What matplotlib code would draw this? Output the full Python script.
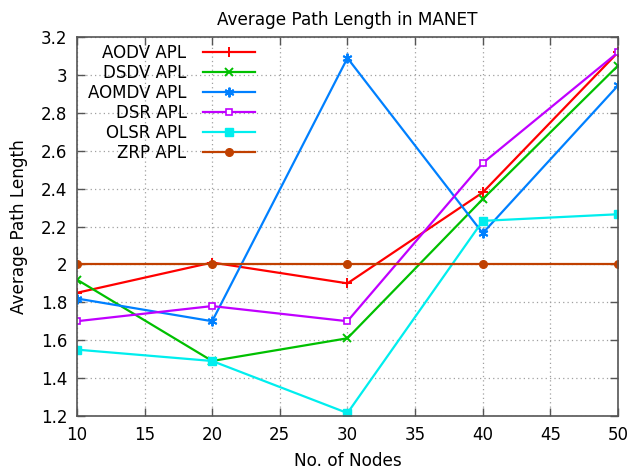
import matplotlib
matplotlib.use("Agg")
import matplotlib.pyplot as plt

nodes = [10, 20, 30, 40, 50]

aodv_apl = [1.85, 2.01, 1.90, 2.38, 3.12]
dsdv_apl = [1.92, 1.49, 1.61, 2.345, 3.05]
aomdv_apl = [1.82, 1.70, 3.09, 2.165, 2.945]
dsr_apl = [1.70, 1.78, 1.70, 2.535, 3.12]
olsr_apl = [1.55, 1.49, 1.215, 2.23, 2.265]
zrp_apl = [2.0, 2.0, 2.0, 2.0, 2.0]

xticks = [10, 15, 20, 25, 30, 35, 40, 45, 50]
yticks = [1.2, 1.4, 1.6, 1.8, 2.0, 2.2, 2.4, 2.6, 2.8, 3.0, 3.2]
ytick_labels = ["1.2", "1.4", "1.6", "1.8", "2", "2.2", "2.4", "2.6", "2.8", "3", "3.2"]

series = [
    ("AODV APL", aodv_apl, "#ff0000", dict(marker="+", ms=7, mew=1.4, mfc="#ff0000")),
    ("DSDV APL", dsdv_apl, "#00c000", dict(marker="x", ms=6, mew=1.4, mfc="#00c000")),
    ("AOMDV APL", aomdv_apl, "#0080ff", dict(marker=(6, 2, 0), ms=7, mew=1.4, mfc="#0080ff")),
    ("DSR APL", dsr_apl, "#c000ff", dict(marker="s", ms=5, mew=1.2, mfc="white")),
    ("OLSR APL", olsr_apl, "#00eeee", dict(marker="s", ms=5.5, mew=1, mfc="#00eeee")),
    ("ZRP APL", zrp_apl, "#c04000", dict(marker="o", ms=5.5, mew=1, mfc="#c04000")),
]

plt.rcParams["font.family"] = "DejaVu Sans"
fig = plt.figure(figsize=(6.3, 4.71), dpi=100)
ax = fig.add_axes([0.122, 0.117, 0.859, 0.804])

for label, vals, color, mk in series:
    ax.plot(nodes, vals, color=color, lw=1.6, mec=color, label=label, **mk)

ax.set_xlim(10, 50)
ax.set_ylim(1.2, 3.2)
ax.set_xticks(xticks)
ax.set_yticks(yticks)
ax.set_yticklabels(ytick_labels)
ax.tick_params(direction="in", length=6, width=1, color="#555555",
               top=True, right=True, labelsize=12, pad=7)
ax.grid(True, color="#a0a0a0", linestyle=(0, (1, 2.5)), linewidth=0.9)
ax.set_axisbelow(True)
for sp in ax.spines.values():
    sp.set_color("#555555")
    sp.set_linewidth(1.2)

ax.set_title("Average Path Length in MANET", fontsize=12.2, pad=9)
ax.set_xlabel("No. of Nodes", fontsize=12.2, labelpad=6)
ax.set_ylabel("Average Path Length", fontsize=12.2, labelpad=9)

ax.legend(loc="upper right", bbox_to_anchor=(0.329, 0.982), frameon=False,
          markerfirst=False, fontsize=12, handlelength=3.1, handletextpad=1.0,
          labelspacing=0.12, borderpad=0, borderaxespad=0)

fig.savefig("out.png", dpi=100)
